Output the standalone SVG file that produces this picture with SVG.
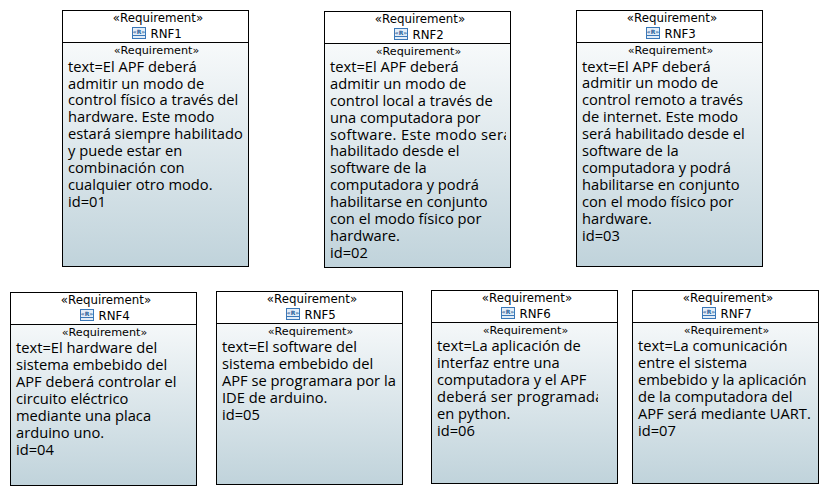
<svg xmlns="http://www.w3.org/2000/svg" width="829" height="496" viewBox="0 0 829 496">
<style>
.box{fill:url(#g);stroke:#000;stroke-width:1}
.head{fill:#fff}
.div{stroke:#000;stroke-width:1}
.st{font:11.8px "DejaVu Sans",sans-serif;text-anchor:middle;fill:#000}
.s2{font:11.2px "DejaVu Sans",sans-serif;text-anchor:middle;fill:#000}
.nm{font:11.8px "DejaVu Sans",sans-serif;fill:#000}
.b{font:14.7px "Open Sans",sans-serif;fill:#000}
.ic{fill:#e4eef8;stroke:#3a78b8;stroke-width:1}
.icl{stroke:#3a78b8;stroke-width:1}
.ict{font:bold 6px "DejaVu Sans",sans-serif;text-anchor:middle;fill:#2a5f99}
</style>
<defs>
<linearGradient id="g" x1="0" y1="0" x2="0" y2="1"><stop offset="0" stop-color="#ffffff"/><stop offset="1" stop-color="#c0d3db"/></linearGradient>
<g id="icon"><rect class="ic" x="0.5" y="0.5" width="13" height="11"/><line class="icl" x1="0.5" y1="8.5" x2="13.5" y2="8.5"/><text class="ict" x="7" y="7">«R»</text></g>
<clipPath id="c1"><rect x="63" y="43" width="180" height="223"/></clipPath>
<clipPath id="c2"><rect x="325" y="44" width="181" height="223"/></clipPath>
<clipPath id="c3"><rect x="577" y="43" width="180" height="223"/></clipPath>
<clipPath id="c4"><rect x="11" y="325" width="180" height="160"/></clipPath>
<clipPath id="c5"><rect x="217" y="324" width="180" height="160"/></clipPath>
<clipPath id="c6"><rect x="432" y="323" width="166" height="160"/></clipPath>
<clipPath id="c7"><rect x="633" y="323" width="180" height="160"/></clipPath>
</defs>
<g id="connectors"/>
<g id="RNF1">
<rect class="box" x="62.5" y="10.5" width="186" height="256"/>
<path class="head" d="M63 11H248V42H63Z"/><line class="div" x1="62.5" y1="42.5" x2="249" y2="42.5"/>
<text class="st" x="158" y="22">«Requirement»</text>
<use href="#icon" x="132" y="27"/><text class="nm" x="150.500" y="38">RNF1</text>
<text class="s2" x="156.500" y="54">«Requirement»</text>
<g clip-path="url(#c1)"><text class="b"><tspan x="68" y="72">text=El APF deberá</tspan><tspan x="68" y="89">admitir un modo de</tspan><tspan x="68" y="105">control físico a través del</tspan><tspan x="68" y="122">hardware. Este modo</tspan><tspan x="68" y="139">estará siempre habilitado</tspan><tspan x="68" y="156">y puede estar en</tspan><tspan x="68" y="173">combinación con</tspan><tspan x="68" y="190">cualquier otro modo.</tspan><tspan x="68" y="207">id=01</tspan></text></g>
</g>
<g id="RNF2">
<rect class="box" x="324.5" y="11.5" width="186" height="256"/>
<path class="head" d="M325 12H510V43H325Z"/><line class="div" x1="324.5" y1="43.5" x2="511" y2="43.5"/>
<text class="st" x="420" y="23">«Requirement»</text>
<use href="#icon" x="394" y="28"/><text class="nm" x="412.500" y="39">RNF2</text>
<text class="s2" x="418.500" y="55">«Requirement»</text>
<g clip-path="url(#c2)"><text class="b"><tspan x="330" y="72">text=El APF deberá</tspan><tspan x="330" y="89">admitir un modo de</tspan><tspan x="330" y="106">control local a través de</tspan><tspan x="330" y="123">una computadora por</tspan><tspan x="330" y="140" letter-spacing="0.35">software. Este modo será</tspan><tspan x="330" y="156">habilitado desde el</tspan><tspan x="330" y="173">software de la</tspan><tspan x="330" y="190">computadora y podrá</tspan><tspan x="330" y="207">habilitarse en conjunto</tspan><tspan x="330" y="224">con el modo físico por</tspan><tspan x="330" y="241">hardware.</tspan><tspan x="330" y="258">id=02</tspan></text></g>
</g>
<g id="RNF3">
<rect class="box" x="576.5" y="10.5" width="186" height="256"/>
<path class="head" d="M577 11H762V42H577Z"/><line class="div" x1="576.5" y1="42.5" x2="763" y2="42.5"/>
<text class="st" x="672" y="22">«Requirement»</text>
<use href="#icon" x="646" y="27"/><text class="nm" x="664.500" y="38">RNF3</text>
<text class="s2" x="670.500" y="54">«Requirement»</text>
<g clip-path="url(#c3)"><text class="b"><tspan x="582" y="72">text=El APF deberá</tspan><tspan x="582" y="88">admitir un modo de</tspan><tspan x="582" y="105">control remoto a través</tspan><tspan x="582" y="122">de internet. Este modo</tspan><tspan x="582" y="139">será habilitado desde el</tspan><tspan x="582" y="156">software de la</tspan><tspan x="582" y="173">computadora y podrá</tspan><tspan x="582" y="190">habilitarse en conjunto</tspan><tspan x="582" y="207">con el modo físico por</tspan><tspan x="582" y="224">hardware.</tspan><tspan x="582" y="241">id=03</tspan></text></g>
</g>
<g id="RNF4">
<rect class="box" x="10.5" y="292.5" width="186" height="193"/>
<path class="head" d="M11 293H196V324H11Z"/><line class="div" x1="10.5" y1="324.5" x2="197" y2="324.5"/>
<text class="st" x="106" y="304">«Requirement»</text>
<use href="#icon" x="80" y="309"/><text class="nm" x="98.500" y="320">RNF4</text>
<text class="s2" x="104.500" y="336">«Requirement»</text>
<g clip-path="url(#c4)"><text class="b"><tspan x="16" y="353">text=El hardware del</tspan><tspan x="16" y="370">sistema embebido del</tspan><tspan x="16" y="387">APF deberá controlar el</tspan><tspan x="16" y="404">circuito eléctrico</tspan><tspan x="16" y="421">mediante una placa</tspan><tspan x="16" y="438">arduino uno.</tspan><tspan x="16" y="455">id=04</tspan></text></g>
</g>
<g id="RNF5">
<rect class="box" x="216.5" y="291.5" width="186" height="193"/>
<path class="head" d="M217 292H402V323H217Z"/><line class="div" x1="216.5" y1="323.5" x2="403" y2="323.5"/>
<text class="st" x="312" y="303">«Requirement»</text>
<use href="#icon" x="286" y="308"/><text class="nm" x="304.500" y="319">RNF5</text>
<text class="s2" x="310.500" y="335">«Requirement»</text>
<g clip-path="url(#c5)"><text class="b"><tspan x="222" y="352">text=El software del</tspan><tspan x="222" y="369">sistema embebido del</tspan><tspan x="222" y="386">APF se programara por la</tspan><tspan x="222" y="403">IDE de arduino.</tspan><tspan x="222" y="420">id=05</tspan></text></g>
</g>
<g id="RNF6">
<rect class="box" x="431.5" y="290.5" width="186" height="193"/>
<path class="head" d="M432 291H617V322H432Z"/><line class="div" x1="431.5" y1="322.5" x2="618" y2="322.5"/>
<text class="st" x="527" y="302">«Requirement»</text>
<use href="#icon" x="501" y="307"/><text class="nm" x="519.500" y="318">RNF6</text>
<text class="s2" x="525.500" y="334">«Requirement»</text>
<g clip-path="url(#c6)"><text class="b"><tspan x="437" y="351">text=La aplicación de</tspan><tspan x="437" y="368">interfaz entre una</tspan><tspan x="437" y="385">computadora y el APF</tspan><tspan x="437" y="402" letter-spacing="0.2">deberá ser programada</tspan><tspan x="437" y="419">en python.</tspan><tspan x="437" y="436">id=06</tspan></text></g>
</g>
<g id="RNF7">
<rect class="box" x="632.5" y="290.5" width="186" height="193"/>
<path class="head" d="M633 291H818V322H633Z"/><line class="div" x1="632.5" y1="322.5" x2="819" y2="322.5"/>
<text class="st" x="728" y="302">«Requirement»</text>
<use href="#icon" x="702" y="307"/><text class="nm" x="720.500" y="318">RNF7</text>
<text class="s2" x="726.500" y="334">«Requirement»</text>
<g clip-path="url(#c7)"><text class="b"><tspan x="638" y="351">text=La comunicación</tspan><tspan x="638" y="368">entre el sistema</tspan><tspan x="638" y="385">embebido y la aplicación</tspan><tspan x="638" y="402">de la computadora del</tspan><tspan x="638" y="419">APF será mediante UART.</tspan><tspan x="638" y="436">id=07</tspan></text></g>
</g>
</svg>
